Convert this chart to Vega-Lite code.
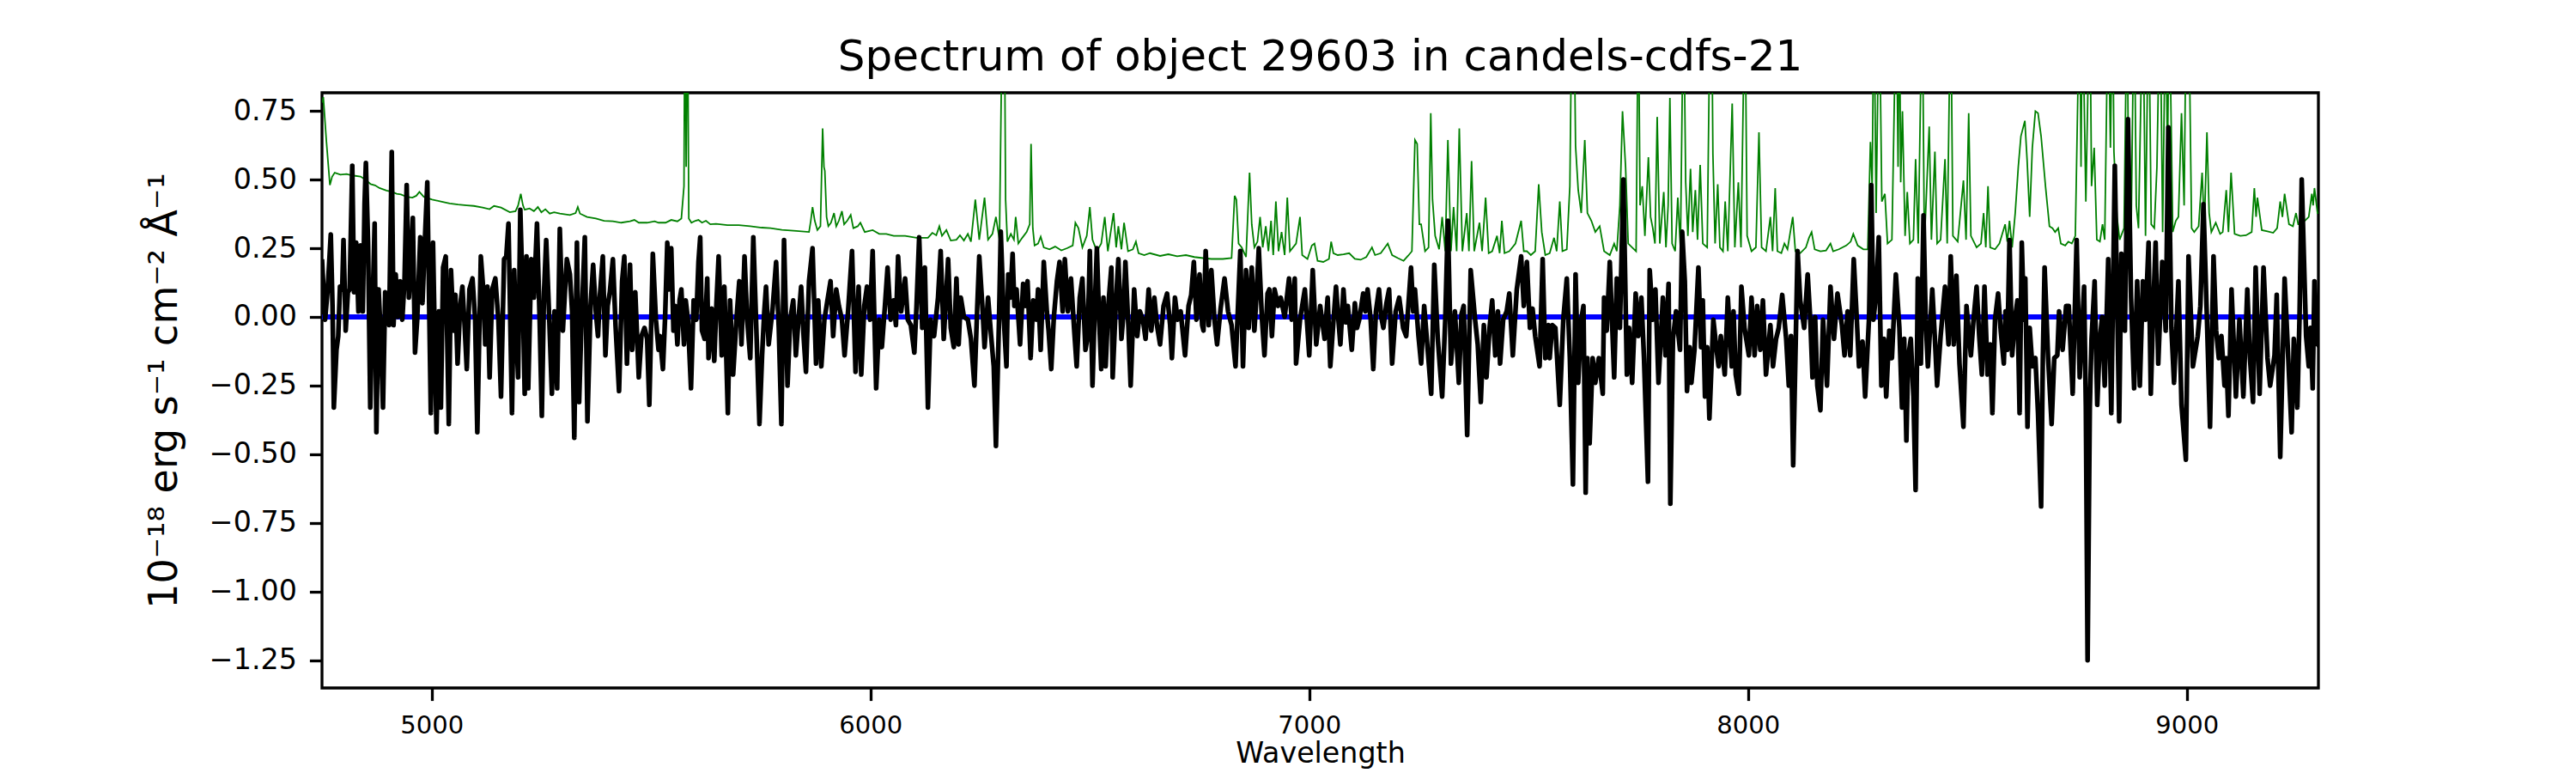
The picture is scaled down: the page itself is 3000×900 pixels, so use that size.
{
  "$schema": "https://vega.github.io/schema/vega-lite/v6.json",
  "autosize": {"type": "none"},
  "padding": {"left": 375, "top": 108, "right": 300, "bottom": 99},
  "width": 2325,
  "height": 693,
  "background": "white",
  "config": {
    "font": "DejaVu Sans",
    "view": {"stroke": "black", "strokeWidth": 3.3}
  },
  "title": {
    "text": "Spectrum of object 29603 in candels-cdfs-21",
    "font": "DejaVu Sans",
    "fontSize": 50,
    "fontWeight": "normal",
    "color": "black",
    "anchor": "middle",
    "baseline": "alphabetic",
    "offset": 24,
    "dy": 48
  },
  "datasets": {
    "zero": [{"w": 4750, "f": 0}, {"w": 9300, "f": 0}],
    "sky": [
      {"w":4750,"f":0.78},{"w":4753,"f":0.8},{"w":4760,"f":0.64},{"w":4768,"f":0.48},{"w":4773,"f":0.51},{"w":4779,"f":0.525},{"w":4792,"f":0.518},{"w":4806,"f":0.52},{"w":4819,"f":0.515},{"w":4838,"f":0.511},{"w":4851,"f":0.497},{"w":4861,"f":0.483},{"w":4871,"f":0.479},{"w":4881,"f":0.469},{"w":4897,"f":0.46},{"w":4910,"f":0.455},{"w":4920,"f":0.448},{"w":4930,"f":0.446},{"w":4943,"f":0.437},{"w":4956,"f":0.434},{"w":4965,"f":0.441},{"w":4972,"f":0.455},{"w":4982,"f":0.437},{"w":5001,"f":0.427},{"w":5021,"f":0.42},{"w":5041,"f":0.413},{"w":5060,"f":0.409},{"w":5080,"f":0.406},{"w":5096,"f":0.404},{"w":5116,"f":0.398},{"w":5132,"f":0.392},{"w":5142,"f":0.404},{"w":5158,"f":0.398},{"w":5178,"f":0.381},{"w":5191,"f":0.385},{"w":5197,"f":0.406},{"w":5203,"f":0.448},{"w":5208,"f":0.406},{"w":5212,"f":0.39},{"w":5223,"f":0.395},{"w":5233,"f":0.385},{"w":5242,"f":0.4},{"w":5250,"f":0.381},{"w":5259,"f":0.392},{"w":5269,"f":0.376},{"w":5279,"f":0.381},{"w":5292,"f":0.376},{"w":5315,"f":0.371},{"w":5328,"f":0.378},{"w":5333,"f":0.4},{"w":5338,"f":0.376},{"w":5354,"f":0.364},{"w":5374,"f":0.358},{"w":5393,"f":0.35},{"w":5413,"f":0.348},{"w":5432,"f":0.343},{"w":5452,"f":0.348},{"w":5462,"f":0.353},{"w":5472,"f":0.343},{"w":5491,"f":0.343},{"w":5508,"f":0.348},
      {"w":5517,"f":0.343},{"w":5533,"f":0.343},{"w":5546,"f":0.353},{"w":5560,"f":0.348},{"w":5569,"f":0.358},{"w":5575,"f":0.476},{"w":5577,"f":1.2},{"w":5580,"f":0.546},{"w":5583,"f":1.2},{"w":5586,"f":0.358},{"w":5592,"f":0.343},{"w":5601,"f":0.35},{"w":5608,"f":0.353},{"w":5616,"f":0.343},{"w":5625,"f":0.35},{"w":5635,"f":0.337},{"w":5648,"f":0.339},{"w":5674,"f":0.334},{"w":5700,"f":0.334},{"w":5726,"f":0.33},{"w":5752,"f":0.325},{"w":5772,"f":0.323},{"w":5798,"f":0.317},{"w":5831,"f":0.313},{"w":5860,"f":0.309},{"w":5864,"f":0.35},{"w":5868,"f":0.4},{"w":5873,"f":0.35},{"w":5879,"f":0.316},{"w":5886,"f":0.33},{"w":5891,"f":0.686},{"w":5894,"f":0.546},{"w":5896,"f":0.532},{"w":5900,"f":0.364},{"w":5904,"f":0.33},{"w":5910,"f":0.343},{"w":5917,"f":0.378},{"w":5922,"f":0.33},{"w":5928,"f":0.35},{"w":5935,"f":0.385},{"w":5940,"f":0.337},{"w":5947,"f":0.35},{"w":5955,"f":0.371},{"w":5961,"f":0.323},{"w":5971,"f":0.33},{"w":5977,"f":0.343},{"w":5987,"f":0.309},{"w":6005,"f":0.316},{"w":6020,"f":0.302},{"w":6036,"f":0.302},{"w":6053,"f":0.295},{"w":6079,"f":0.295},{"w":6105,"f":0.288},{"w":6131,"f":0.288},{"w":6141,"f":0.306},{"w":6150,"f":0.297},{"w":6157,"f":0.33},{"w":6163,"f":0.295},{"w":6173,"f":0.316},{"w":6183,"f":0.278},{"w":6196,"f":0.281},{"w":6204,"f":0.297},{"w":6213,"f":0.278},{"w":6222,"f":0.302},{"w":6229,"f":0.274},{"w":6239,"f":0.427},{"w":6248,"f":0.281},{"w":6260,"f":0.434},{"w":6268,"f":0.281},{"w":6278,"f":0.302},{"w":6286,"f":0.364},
      {"w":6294,"f":0.281},{"w":6301,"f":1.2},{"w":6305,"f":1.2},{"w":6308,"f":0.427},{"w":6312,"f":0.274},{"w":6320,"f":0.302},{"w":6327,"f":0.281},{"w":6331,"f":0.364},{"w":6337,"f":0.267},{"w":6346,"f":0.288},{"w":6356,"f":0.309},{"w":6363,"f":0.337},{"w":6366,"f":0.63},{"w":6370,"f":0.323},{"w":6374,"f":0.26},{"w":6382,"f":0.267},{"w":6388,"f":0.292},{"w":6395,"f":0.253},{"w":6408,"f":0.246},{"w":6421,"f":0.256},{"w":6435,"f":0.242},{"w":6448,"f":0.25},{"w":6461,"f":0.26},{"w":6467,"f":0.343},{"w":6474,"f":0.323},{"w":6483,"f":0.253},{"w":6493,"f":0.295},{"w":6500,"f":0.4},{"w":6506,"f":0.281},{"w":6516,"f":0.239},{"w":6526,"f":0.267},{"w":6534,"f":0.364},{"w":6541,"f":0.239},{"w":6554,"f":0.378},{"w":6560,"f":0.253},{"w":6565,"f":0.33},{"w":6572,"f":0.246},{"w":6578,"f":0.343},{"w":6587,"f":0.239},{"w":6598,"f":0.246},{"w":6605,"f":0.274},{"w":6611,"f":0.232},{"w":6624,"f":0.225},{"w":6637,"f":0.232},{"w":6660,"f":0.222},{"w":6679,"f":0.228},{"w":6699,"f":0.221},{"w":6719,"f":0.225},{"w":6738,"f":0.218},{"w":6758,"f":0.214},{"w":6777,"f":0.211},{"w":6803,"f":0.211},{"w":6823,"f":0.214},{"w":6830,"f":0.441},{"w":6834,"f":0.427},{"w":6839,"f":0.267},{"w":6846,"f":0.253},{"w":6856,"f":0.218},{"w":6864,"f":0.525},{"w":6869,"f":0.337},{"w":6875,"f":0.253},{"w":6882,"f":0.274},{"w":6888,"f":0.364},{"w":6894,"f":0.253},{"w":6901,"f":0.33},{"w":6907,"f":0.239},{"w":6913,"f":0.35},{"w":6918,"f":0.225},{"w":6924,"f":0.42},{"w":6930,"f":0.239},{"w":6937,"f":0.309},{"w":6944,"f":0.225},{"w":6950,"f":0.434},{"w":6956,"f":0.239},{"w":6970,"f":0.267},{"w":6979,"f":0.364},{"w":6984,"f":0.225},{"w":6996,"f":0.211},{"w":7006,"f":0.26},{"w":7012,"f":0.267},{"w":7019,"f":0.204},{"w":7032,"f":0.2},{"w":7045,"f":0.211},{"w":7050,"f":0.274},
      {"w":7055,"f":0.232},{"w":7065,"f":0.225},{"w":7078,"f":0.228},{"w":7091,"f":0.232},{"w":7104,"f":0.211},{"w":7117,"f":0.208},{"w":7130,"f":0.218},{"w":7143,"f":0.253},{"w":7150,"f":0.225},{"w":7163,"f":0.232},{"w":7179,"f":0.267},{"w":7189,"f":0.225},{"w":7202,"f":0.214},{"w":7215,"f":0.204},{"w":7225,"f":0.222},{"w":7234,"f":0.239},{"w":7241,"f":0.644},{"w":7246,"f":0.63},{"w":7251,"f":0.337},{"w":7255,"f":0.337},{"w":7264,"f":0.239},{"w":7272,"f":0.253},{"w":7277,"f":0.742},{"w":7281,"f":0.427},{"w":7287,"f":0.295},{"w":7296,"f":0.246},{"w":7303,"f":0.364},{"w":7310,"f":0.239},{"w":7316,"f":0.644},{"w":7323,"f":0.239},{"w":7329,"f":0.4},{"w":7336,"f":0.239},{"w":7342,"f":0.686},{"w":7349,"f":0.239},{"w":7359,"f":0.378},{"w":7364,"f":0.239},{"w":7370,"f":0.567},{"w":7376,"f":0.239},{"w":7388,"f":0.343},{"w":7394,"f":0.239},{"w":7402,"f":0.434},{"w":7409,"f":0.232},{"w":7417,"f":0.239},{"w":7428,"f":0.295},{"w":7434,"f":0.232},{"w":7439,"f":0.35},{"w":7445,"f":0.232},{"w":7456,"f":0.239},{"w":7470,"f":0.267},{"w":7483,"f":0.35},{"w":7489,"f":0.239},{"w":7496,"f":0.239},{"w":7505,"f":0.225},{"w":7515,"f":0.239},{"w":7523,"f":0.483},{"w":7530,"f":0.309},{"w":7538,"f":0.225},{"w":7548,"f":0.232},{"w":7558,"f":0.288},{"w":7564,"f":0.239},{"w":7571,"f":0.42},{"w":7577,"f":0.239},{"w":7587,"f":0.246},{"w":7594,"f":0.476},{"w":7599,"f":1.2},{"w":7603,"f":1.2},{"w":7607,"f":0.623},{"w":7613,"f":0.462},{"w":7620,"f":0.378},{"w":7628,"f":0.644},{"w":7634,"f":0.378},{"w":7643,"f":0.35},{"w":7652,"f":0.309},{"w":7662,"f":0.33},{"w":7672,"f":0.239},{"w":7685,"f":0.225},{"w":7695,"f":0.267},{"w":7701,"f":0.239},{"w":7708,"f":0.406},{"w":7714,"f":0.749},{"w":7721,"f":0.546},{"w":7727,"f":0.267},{"w":7736,"f":0.253},{"w":7745,"f":0.239},{"w":7750,"f":1.2},{"w":7754,"f":0.406},{"w":7759,"f":0.476},{"w":7765,"f":0.295},{"w":7773,"f":0.581},{"w":7778,"f":0.364},{"w":7783,"f":0.323},{"w":7788,"f":0.267},{"w":7793,"f":0.728},
      {"w":7799,"f":0.267},{"w":7808,"f":0.455},{"w":7813,"f":0.253},{"w":7818,"f":0.406},{"w":7822,"f":0.797},{"w":7827,"f":0.267},{"w":7834,"f":0.239},{"w":7840,"f":0.434},{"w":7846,"f":0.253},{"w":7853,"f":1.2},{"w":7858,"f":0.49},{"w":7863,"f":0.295},{"w":7869,"f":0.539},{"w":7874,"f":0.309},{"w":7880,"f":0.462},{"w":7885,"f":0.281},{"w":7891,"f":0.553},{"w":7897,"f":0.267},{"w":7907,"f":0.253},{"w":7914,"f":1.2},{"w":7917,"f":1.2},{"w":7920,"f":0.595},{"w":7925,"f":0.267},{"w":7931,"f":0.483},{"w":7936,"f":0.253},{"w":7943,"f":0.239},{"w":7948,"f":0.42},{"w":7954,"f":0.239},{"w":7964,"f":0.777},{"w":7970,"f":0.253},{"w":7978,"f":0.49},{"w":7984,"f":0.253},{"w":7993,"f":1.2},{"w":7998,"f":0.295},{"w":8008,"f":0.239},{"w":8018,"f":0.253},{"w":8025,"f":0.672},{"w":8031,"f":0.253},{"w":8041,"f":0.239},{"w":8051,"f":0.364},{"w":8056,"f":0.239},{"w":8062,"f":0.469},{"w":8067,"f":0.239},{"w":8076,"f":0.232},{"w":8083,"f":0.267},{"w":8090,"f":0.246},{"w":8095,"f":0.295},{"w":8102,"f":0.364},{"w":8108,"f":0.239},{"w":8119,"f":0.232},{"w":8132,"f":0.253},{"w":8139,"f":0.288},{"w":8145,"f":0.309},{"w":8152,"f":0.246},{"w":8165,"f":0.239},{"w":8178,"f":0.242},{"w":8188,"f":0.267},{"w":8194,"f":0.239},{"w":8207,"f":0.246},{"w":8224,"f":0.26},{"w":8234,"f":0.274},{"w":8240,"f":0.302},{"w":8250,"f":0.26},{"w":8263,"f":0.246},{"w":8273,"f":0.246},{"w":8279,"f":0.637},{"w":8283,"f":0.476},{"w":8287,"f":1.2},{"w":8292,"f":0.378},{"w":8299,"f":1.2},{"w":8305,"f":0.42},{"w":8312,"f":0.448},{"w":8318,"f":0.267},{"w":8328,"f":0.281},{"w":8338,"f":1.2},{"w":8342,"f":0.546},{"w":8345,"f":1.2},{"w":8348,"f":0.49},{"w":8352,"f":0.749},{"w":8358,"f":0.295},{"w":8363,"f":0.455},{"w":8369,"f":0.267},{"w":8377,"f":0.281},{"w":8382,"f":0.574},{"w":8388,"f":0.267},{"w":8397,"f":1.2},{"w":8402,"f":0.267},{"w":8413,"f":0.693},{"w":8418,"f":0.281},{"w":8426,"f":0.602},{"w":8431,"f":0.267},{"w":8439,"f":0.281},{"w":8449,"f":0.574},{"w":8454,"f":0.267},{"w":8462,"f":1.2},{"w":8467,"f":0.295},{"w":8478,"f":0.274},{"w":8491,"f":0.497},{"w":8497,"f":0.281},{"w":8503,"f":0.742},{"w":8508,"f":0.295},{"w":8521,"f":0.253},{"w":8531,"f":0.267},{"w":8537,"f":0.378},{"w":8542,"f":0.253},{"w":8547,"f":0.476},{"w":8552,"f":0.253},{"w":8563,"f":0.246},{"w":8573,"f":0.267},
      {"w":8586,"f":0.337},{"w":8591,"f":0.274},{"w":8596,"f":0.35},{"w":8602,"f":0.253},{"w":8609,"f":0.378},{"w":8616,"f":0.546},{"w":8622,"f":0.658},{"w":8631,"f":0.714},{"w":8636,"f":0.574},{"w":8642,"f":0.364},{"w":8648,"f":0.616},{"w":8655,"f":0.749},{"w":8661,"f":0.742},{"w":8668,"f":0.658},{"w":8678,"f":0.476},{"w":8687,"f":0.33},{"w":8694,"f":0.323},{"w":8700,"f":0.309},{"w":8707,"f":0.323},{"w":8713,"f":0.267},{"w":8723,"f":0.26},{"w":8730,"f":0.274},{"w":8738,"f":0.267},{"w":8746,"f":0.295},{"w":8756,"f":1.2},{"w":8759,"f":0.546},{"w":8762,"f":1.2},{"w":8770,"f":0.42},{"w":8779,"f":1.2},{"w":8783,"f":0.476},{"w":8789,"f":0.616},{"w":8795,"f":0.281},{"w":8802,"f":0.274},{"w":8808,"f":0.337},{"w":8813,"f":0.281},{"w":8821,"f":1.2},{"w":8826,"f":0.616},{"w":8831,"f":1.2},{"w":8834,"f":0.602},{"w":8841,"f":0.364},{"w":8847,"f":0.281},{"w":8857,"f":0.323},{"w":8864,"f":1.2},{"w":8868,"f":0.323},{"w":8873,"f":0.281},{"w":8880,"f":1.2},{"w":8885,"f":0.406},{"w":8890,"f":0.323},{"w":8900,"f":1.2},{"w":8906,"f":0.295},{"w":8913,"f":1.2},{"w":8919,"f":0.337},{"w":8926,"f":0.323},{"w":8932,"f":0.546},{"w":8939,"f":1.2},{"w":8945,"f":0.309},{"w":8952,"f":1.2},{"w":8956,"f":0.546},{"w":8960,"f":1.2},{"w":8968,"f":0.309},{"w":8975,"f":0.35},{"w":8981,"f":0.364},{"w":8988,"f":0.742},{"w":8994,"f":0.406},{"w":8999,"f":1.2},{"w":9004,"f":1.2},{"w":9011,"f":0.323},{"w":9017,"f":0.309},{"w":9027,"f":0.33},{"w":9035,"f":0.525},{"w":9040,"f":0.323},{"w":9046,"f":0.672},{"w":9051,"f":0.378},{"w":9056,"f":0.309},{"w":9066,"f":0.343},{"w":9076,"f":0.302},{"w":9082,"f":0.309},{"w":9090,"f":0.462},{"w":9095,"f":0.309},{"w":9101,"f":0.525},{"w":9109,"f":0.302},{"w":9122,"f":0.295},{"w":9135,"f":0.297},{"w":9148,"f":0.309},{"w":9154,"f":0.469},{"w":9158,"f":0.364},{"w":9161,"f":0.434},{"w":9171,"f":0.316},{"w":9184,"f":0.311},{"w":9197,"f":0.306},{"w":9206,"f":0.323},{"w":9213,"f":0.42},{"w":9218,"f":0.364},{"w":9223,"f":0.448},{"w":9233,"f":0.337},{"w":9242,"f":0.33},{"w":9249,"f":0.378},{"w":9254,"f":0.337},{"w":9259,"f":0.337},{"w":9269,"f":0.35},{"w":9278,"f":0.364},{"w":9285,"f":0.448},{"w":9288,"f":0.406},{"w":9291,"f":0.469},{"w":9298,"f":0.378},{"w":9304,"f":0.381}
    ],
    "flux": [
      {"w":4750,"f":0.21},{"w":4757,"f":-0.01},{"w":4763,"f":0.1},{"w":4770,"f":0.3},{"w":4774,"f":0.04},{"w":4777,"f":-0.33},{"w":4783,"f":-0.12},{"w":4787,"f":-0.07},{"w":4791,"f":0.11},{"w":4796,"f":0.1},{"w":4799,"f":0.28},{"w":4804,"f":-0.05},{"w":4809,"f":0.09},{"w":4813,"f":0.1},{"w":4819,"f":0.55},{"w":4823,"f":0.09},{"w":4828,"f":0.27},{"w":4833,"f":0.02},{"w":4838,"f":0.26},{"w":4843,"f":0.02},{"w":4847,"f":0.41},{"w":4850,"f":0.56},{"w":4855,"f":0.27},{"w":4860,"f":-0.33},{"w":4864,"f":-0.04},{"w":4870,"f":0.34},{"w":4874,"f":-0.42},{"w":4879,"f":0.1},{"w":4884,"f":-0.07},{"w":4889,"f":-0.33},{"w":4894,"f":0.09},{"w":4898,"f":0.07},{"w":4903,"f":-0.03},{"w":4909,"f":0.6},{"w":4913,"f":-0.03},{"w":4918,"f":0.155},{"w":4923,"f":0.0},{"w":4928,"f":0.13},{"w":4933,"f":-0.01},{"w":4938,"f":0.13},{"w":4943,"f":0.48},{"w":4948,"f":0.07},{"w":4952,"f":0.17},{"w":4957,"f":0.36},{"w":4962,"f":-0.13},{"w":4967,"f":-0.01},{"w":4974,"f":0.29},{"w":4979,"f":0.05},{"w":4985,"f":0.3},{"w":4990,"f":0.49},{"w":4998,"f":-0.35},{"w":5003,"f":0.27},{"w":5011,"f":-0.42},{"w":5016,"f":0.02},{"w":5021,"f":-0.33},{"w":5026,"f":0.18},{"w":5032,"f":0.22},{"w":5039,"f":-0.39},{"w":5044,"f":0.17},{"w":5050,"f":-0.05},{"w":5054,"f":0.08},{"w":5059,"f":-0.17},{"w":5065,"f":0.04},{"w":5070,"f":0.11},{"w":5075,"f":-0.03},{"w":5080,"f":-0.19},{"w":5086,"f":0.1},{"w":5093,"f":0.14},{"w":5099,"f":-0.01},{"w":5104,"f":-0.42},{"w":5112,"f":0.22},{"w":5118,"f":0.09},{"w":5122,"f":-0.1},{"w":5127,"f":0.11},{"w":5132,"f":-0.22},{"w":5138,"f":0.1},{"w":5145,"f":0.14},{"w":5152,"f":-0.01},{"w":5158,"f":-0.29},{"w":5165,"f":0.21},{"w":5170,"f":0.22},{"w":5175,"f":0.34},{"w":5183,"f":-0.35},{"w":5188,"f":0.17},{"w":5192,"f":-0.04},{"w":5197,"f":-0.22},{"w":5202,"f":0.39},{"w":5208,"f":0.04},{"w":5212,"f":-0.28},{"w":5216,"f":0.22},{"w":5220,"f":-0.26},{"w":5227,"f":0.21},{"w":5233,"f":0.07},{"w":5240,"f":0.34},{"w":5246,"f":-0.01},{"w":5251,"f":-0.36},{"w":5256,"f":0.09},{"w":5261,"f":0.28},{"w":5268,"f":-0.01},{"w":5274,"f":-0.28},{"w":5280,"f":0.02},{"w":5286,"f":-0.26},{"w":5292,"f":0.32},{"w":5299,"f":-0.05},{"w":5303,"f":0.07},{"w":5308,"f":0.21},{"w":5315,"f":0.155},{"w":5320,"f":0.02},{"w":5325,"f":-0.44},{"w":5331,"f":0.27},{"w":5336,"f":-0.31},{"w":5341,"f":-0.04},{"w":5349,"f":0.29},{"w":5355,"f":-0.38},{"w":5362,"f":0.04},{"w":5368,"f":0.19},{"w":5374,"f":0.02},{"w":5379,"f":-0.07},{"w":5383,"f":0.07},{"w":5390,"f":0.22},{"w":5396,"f":-0.14},{"w":5401,"f":0.04},{"w":5406,"f":0.09},{"w":5413,"f":0.21},{"w":5419,"f":-0.03},{"w":5427,"f":-0.27},{"w":5434,"f":0.13},{"w":5439,"f":0.22},{"w":5445,"f":-0.17},{"w":5452,"f":0.19},{"w":5457,"f":-0.12},{"w":5464,"f":0.09},{"w":5472,"f":-0.22},{"w":5478,"f":-0.07},{"w":5485,"f":-0.04},{"w":5491,"f":-0.08},{"w":5496,"f":-0.32},{"w":5504,"f":0.23},{"w":5511,"f":-0.01},{"w":5517,"f":-0.12},
      {"w":5520,"f":-0.07},{"w":5527,"f":-0.19},{"w":5532,"f":0.0},{"w":5537,"f":0.27},{"w":5541,"f":0.1},{"w":5546,"f":0.25},{"w":5551,"f":-0.05},{"w":5555,"f":0.04},{"w":5560,"f":-0.1},{"w":5565,"f":0.06},{"w":5569,"f":0.1},{"w":5575,"f":-0.1},{"w":5579,"f":0.06},{"w":5584,"f":-0.01},{"w":5591,"f":-0.26},{"w":5597,"f":0.06},{"w":5603,"f":-0.01},{"w":5608,"f":0.2},{"w":5612,"f":0.29},{"w":5616,"f":-0.05},{"w":5622,"f":-0.08},{"w":5628,"f":0.14},{"w":5631,"f":-0.15},{"w":5638,"f":0.03},{"w":5644,"f":-0.16},{"w":5649,"f":0.05},{"w":5654,"f":0.22},{"w":5661,"f":-0.14},{"w":5667,"f":0.11},{"w":5675,"f":-0.35},{"w":5680,"f":0.06},{"w":5687,"f":-0.21},{"w":5695,"f":0.0},{"w":5701,"f":0.13},{"w":5706,"f":-0.1},{"w":5713,"f":0.22},{"w":5719,"f":-0.01},{"w":5726,"f":-0.15},{"w":5733,"f":0.29},{"w":5740,"f":-0.05},{"w":5747,"f":-0.39},{"w":5753,"f":-0.14},{"w":5758,"f":0.02},{"w":5762,"f":0.11},{"w":5768,"f":-0.1},{"w":5777,"f":0.03},{"w":5785,"f":0.2},{"w":5791,"f":-0.04},{"w":5797,"f":-0.39},{"w":5803,"f":0.28},{"w":5811,"f":-0.25},{"w":5817,"f":-0.01},{"w":5824,"f":0.06},{"w":5830,"f":-0.14},{"w":5836,"f":-0.01},{"w":5842,"f":0.11},{"w":5848,"f":-0.08},{"w":5853,"f":-0.2},{"w":5860,"f":0.13},{"w":5868,"f":0.25},{"w":5876,"f":-0.17},{"w":5881,"f":0.06},{"w":5888,"f":-0.18},{"w":5895,"f":-0.01},{"w":5902,"f":0.06},{"w":5909,"f":0.13},{"w":5915,"f":-0.07},{"w":5922,"f":0.1},{"w":5928,"f":0.04},{"w":5935,"f":-0.01},{"w":5941,"f":-0.14},{"w":5949,"f":0.02},{"w":5958,"f":0.24},{"w":5966,"f":-0.2},{"w":5973,"f":0.11},{"w":5979,"f":-0.21},{"w":5986,"f":0.04},{"w":5992,"f":0.11},{"w":5999,"f":-0.01},{"w":6005,"f":0.24},{"w":6013,"f":-0.26},{"w":6020,"f":-0.01},{"w":6026,"f":-0.11},{"w":6033,"f":0.04},{"w":6039,"f":0.18},{"w":6046,"f":-0.01},{"w":6053,"f":0.06},{"w":6058,"f":-0.03},{"w":6063,"f":0.22},{"w":6070,"f":0.02},{"w":6079,"f":0.14},{"w":6085,"f":-0.01},{"w":6092,"f":-0.03},{"w":6100,"f":-0.13},{"w":6105,"f":0.04},{"w":6111,"f":0.29},{"w":6118,"f":-0.04},{"w":6124,"f":0.18},{"w":6131,"f":-0.33},{"w":6137,"f":-0.01},{"w":6145,"f":-0.07},{"w":6154,"f":0.07},{"w":6160,"f":0.24},{"w":6167,"f":-0.08},{"w":6177,"f":0.21},{"w":6183,"f":-0.04},{"w":6190,"f":-0.11},{"w":6196,"f":0.14},{"w":6201,"f":-0.1},{"w":6206,"f":0.07},{"w":6213,"f":0.0},{"w":6222,"f":-0.01},{"w":6229,"f":-0.08},{"w":6237,"f":-0.25},{"w":6243,"f":0.02},{"w":6248,"f":0.22},{"w":6255,"f":0.04},{"w":6260,"f":-0.11},{"w":6268,"f":0.07},{"w":6275,"f":-0.07},{"w":6281,"f":-0.18},{"w":6286,"f":-0.47},
      {"w":6293,"f":-0.01},{"w":6297,"f":0.31},{"w":6304,"f":-0.01},{"w":6310,"f":-0.18},{"w":6314,"f":0.155},{"w":6319,"f":0.07},{"w":6324,"f":0.23},{"w":6328,"f":0.04},{"w":6333,"f":0.1},{"w":6341,"f":-0.1},{"w":6348,"f":0.12},{"w":6353,"f":0.04},{"w":6358,"f":0.13},{"w":6365,"f":-0.15},{"w":6371,"f":0.06},{"w":6378,"f":-0.01},{"w":6382,"f":0.1},{"w":6388,"f":-0.12},{"w":6395,"f":0.2},{"w":6402,"f":0.02},{"w":6406,"f":-0.05},{"w":6412,"f":-0.19},{"w":6418,"f":0.0},{"w":6425,"f":0.13},{"w":6431,"f":0.2},{"w":6438,"f":0.02},{"w":6443,"f":0.21},{"w":6450,"f":0.02},{"w":6457,"f":0.14},{"w":6464,"f":-0.04},{"w":6470,"f":-0.18},{"w":6477,"f":0.07},{"w":6483,"f":0.14},{"w":6490,"f":-0.12},{"w":6495,"f":-0.07},{"w":6500,"f":0.24},{"w":6506,"f":-0.25},{"w":6511,"f":0.02},{"w":6516,"f":0.25},{"w":6521,"f":0.0},{"w":6526,"f":-0.19},{"w":6531,"f":0.07},{"w":6536,"f":-0.18},{"w":6542,"f":0.04},{"w":6549,"f":0.18},{"w":6552,"f":-0.22},{"w":6559,"f":0.04},{"w":6565,"f":0.21},{"w":6572,"f":-0.08},{"w":6576,"f":0.0},{"w":6581,"f":0.2},{"w":6588,"f":-0.04},{"w":6593,"f":-0.25},{"w":6601,"f":0.1},{"w":6608,"f":-0.07},{"w":6614,"f":0.02},{"w":6621,"f":-0.01},{"w":6627,"f":-0.08},{"w":6634,"f":0.1},{"w":6640,"f":-0.05},{"w":6647,"f":0.07},{"w":6653,"f":-0.03},{"w":6660,"f":-0.1},{"w":6668,"f":0.04},{"w":6676,"f":0.085},{"w":6683,"f":-0.03},{"w":6687,"f":-0.15},{"w":6694,"f":0.07},{"w":6700,"f":-0.01},{"w":6707,"f":0.02},{"w":6712,"f":-0.06},{"w":6717,"f":-0.14},{"w":6725,"f":0.04},{"w":6731,"f":0.08},{"w":6737,"f":0.2},{"w":6743,"f":-0.01},{"w":6750,"f":0.155},{"w":6756,"f":-0.03},{"w":6759,"f":-0.05},{"w":6764,"f":0.24},{"w":6771,"f":-0.03},{"w":6777,"f":0.17},{"w":6784,"f":-0.01},{"w":6790,"f":-0.1},{"w":6798,"f":0.03},{"w":6807,"f":0.14},{"w":6815,"f":0.02},{"w":6823,"f":-0.03},{"w":6832,"f":-0.18},{"w":6838,"f":0.05},{"w":6843,"f":0.24},{"w":6849,"f":-0.18},{"w":6856,"f":0.17},{"w":6862,"f":-0.04},{"w":6869,"f":0.18},{"w":6875,"f":-0.05},{"w":6880,"f":0.08},{"w":6885,"f":0.25},{"w":6892,"f":0.0},{"w":6898,"f":-0.14},{"w":6905,"f":0.085},{"w":6909,"f":0.1},{"w":6915,"f":-0.07},{"w":6921,"f":0.1},{"w":6929,"f":0.04},{"w":6935,"f":0.07},{"w":6944,"f":0.0},{"w":6954,"f":0.14},{"w":6960,"f":-0.01},{"w":6967,"f":0.14},{"w":6970,"f":-0.17},{"w":6979,"f":-0.01},{"w":6990,"f":0.1},{"w":7000,"f":-0.14},{"w":7008,"f":0.17},{"w":7016,"f":-0.1},{"w":7025,"f":0.04},{"w":7035,"f":-0.08},{"w":7042,"f":0.07},{"w":7048,"f":-0.18},
      {"w":7055,"f":-0.02},{"w":7061,"f":0.11},{"w":7066,"f":0.0},{"w":7071,"f":-0.1},{"w":7078,"f":0.1},{"w":7083,"f":-0.02},{"w":7088,"f":0.04},{"w":7097,"f":-0.12},{"w":7104,"f":0.05},{"w":7109,"f":-0.04},{"w":7114,"f":-0.01},{"w":7123,"f":0.085},{"w":7128,"f":0.02},{"w":7133,"f":0.1},{"w":7140,"f":-0.01},{"w":7146,"f":-0.19},{"w":7152,"f":0.02},{"w":7159,"f":0.1},{"w":7164,"f":0.0},{"w":7169,"f":-0.04},{"w":7176,"f":0.05},{"w":7182,"f":0.1},{"w":7189,"f":-0.17},{"w":7197,"f":0.02},{"w":7205,"f":0.07},{"w":7214,"f":-0.04},{"w":7221,"f":-0.07},{"w":7232,"f":0.18},{"w":7237,"f":0.02},{"w":7241,"f":0.1},{"w":7249,"f":-0.07},{"w":7255,"f":-0.17},{"w":7262,"f":0.04},{"w":7270,"f":-0.12},{"w":7278,"f":-0.28},{"w":7285,"f":0.19},{"w":7293,"f":-0.08},{"w":7303,"f":-0.29},{"w":7310,"f":-0.01},{"w":7316,"f":0.35},{"w":7323,"f":-0.17},{"w":7332,"f":0.02},{"w":7341,"f":-0.24},{"w":7347,"f":0.01},{"w":7352,"f":0.04},{"w":7360,"f":-0.43},{"w":7368,"f":0.17},{"w":7378,"f":-0.01},{"w":7384,"f":-0.1},{"w":7391,"f":-0.31},{"w":7398,"f":-0.03},{"w":7404,"f":-0.22},{"w":7411,"f":-0.04},{"w":7417,"f":0.06},{"w":7424,"f":-0.14},{"w":7430,"f":0.02},{"w":7435,"f":-0.17},{"w":7442,"f":-0.01},{"w":7450,"f":0.02},{"w":7456,"f":0.085},{"w":7464,"f":-0.14},{"w":7473,"f":0.1},{"w":7483,"f":0.22},{"w":7489,"f":0.04},{"w":7496,"f":0.2},{"w":7503,"f":-0.04},{"w":7509,"f":0.03},{"w":7515,"f":-0.07},{"w":7525,"f":-0.18},{"w":7532,"f":0.21},{"w":7538,"f":-0.15},{"w":7545,"f":-0.03},{"w":7548,"f":-0.15},{"w":7554,"f":-0.03},{"w":7561,"f":-0.04},{"w":7571,"f":-0.32},{"w":7579,"f":-0.01},{"w":7587,"f":0.14},{"w":7594,"f":-0.15},{"w":7601,"f":-0.61},{"w":7607,"f":0.155},{"w":7613,"f":-0.24},{"w":7620,"f":-0.01},{"w":7625,"f":0.04},{"w":7630,"f":-0.64},{"w":7634,"f":-0.15},{"w":7639,"f":-0.46},{"w":7646,"f":-0.15},{"w":7652,"f":-0.24},{"w":7660,"f":-0.15},{"w":7669,"f":-0.28},{"w":7672,"f":0.07},{"w":7678,"f":-0.05},{"w":7685,"f":0.2},{"w":7695,"f":-0.22},{"w":7701,"f":0.14},{"w":7708,"f":-0.04},{"w":7716,"f":0.5},{"w":7724,"f":-0.21},{"w":7729,"f":-0.04},{"w":7736,"f":-0.24},{"w":7744,"f":0.085},{"w":7750,"f":-0.07},{"w":7757,"f":0.07},{"w":7763,"f":-0.15},{"w":7772,"f":-0.6},{"w":7776,"f":0.17},{"w":7783,"f":-0.01},{"w":7789,"f":0.1},{"w":7796,"f":-0.24},{"w":7806,"f":0.07},
      {"w":7812,"f":-0.14},{"w":7819,"f":0.12},{"w":7823,"f":-0.68},{"w":7829,"f":-0.08},{"w":7836,"f":0.02},{"w":7845,"f":-0.12},{"w":7850,"f":0.31},{"w":7856,"f":0.13},{"w":7861,"f":-0.27},{"w":7867,"f":-0.11},{"w":7871,"f":-0.24},{"w":7878,"f":-0.12},{"w":7887,"f":0.18},{"w":7893,"f":-0.11},{"w":7897,"f":0.06},{"w":7902,"f":-0.29},{"w":7907,"f":-0.11},{"w":7912,"f":-0.37},{"w":7921,"f":-0.01},{"w":7927,"f":-0.1},{"w":7933,"f":-0.18},{"w":7938,"f":-0.07},{"w":7947,"f":-0.21},{"w":7954,"f":0.07},{"w":7963,"f":-0.18},{"w":7967,"f":0.02},{"w":7972,"f":-0.21},{"w":7979,"f":-0.28},{"w":7985,"f":0.11},{"w":7992,"f":-0.04},{"w":8002,"f":-0.14},{"w":8008,"f":0.07},{"w":8015,"f":-0.14},{"w":8021,"f":0.04},{"w":8028,"f":-0.12},{"w":8034,"f":0.06},{"w":8041,"f":-0.21},{"w":8051,"f":-0.03},{"w":8057,"f":-0.18},{"w":8064,"f":-0.08},{"w":8070,"f":-0.04},{"w":8078,"f":0.08},{"w":8087,"f":-0.08},{"w":8093,"f":-0.25},{"w":8098,"f":-0.07},{"w":8103,"f":-0.54},{"w":8108,"f":-0.15},{"w":8113,"f":0.24},{"w":8119,"f":0.06},{"w":8128,"f":-0.04},{"w":8136,"f":0.155},{"w":8142,"f":-0.01},{"w":8147,"f":-0.22},{"w":8153,"f":0.0},{"w":8158,"f":-0.25},{"w":8165,"f":-0.34},{"w":8171,"f":-0.01},{"w":8180,"f":-0.25},{"w":8188,"f":0.11},{"w":8196,"f":-0.08},{"w":8204,"f":0.085},{"w":8214,"f":-0.03},{"w":8220,"f":-0.14},{"w":8227,"f":0.02},{"w":8233,"f":-0.14},{"w":8241,"f":0.21},{"w":8248,"f":-0.01},{"w":8253,"f":-0.18},{"w":8261,"f":-0.09},{"w":8267,"f":-0.29},{"w":8276,"f":0.0},{"w":8281,"f":0.48},{"w":8286,"f":-0.01},{"w":8292,"f":0.085},{"w":8298,"f":0.29},{"w":8304,"f":-0.25},{"w":8310,"f":-0.08},{"w":8315,"f":-0.29},{"w":8322,"f":-0.05},{"w":8328,"f":-0.15},{"w":8337,"f":0.155},{"w":8345,"f":-0.04},{"w":8351,"f":-0.33},{"w":8356,"f":-0.08},{"w":8361,"f":-0.45},{"w":8365,"f":-0.15},{"w":8371,"f":-0.08},{"w":8377,"f":-0.29},{"w":8382,"f":-0.63},{"w":8387,"f":0.14},{"w":8394,"f":-0.17},{"w":8400,"f":0.37},{"w":8405,"f":-0.01},{"w":8410,"f":-0.18},{"w":8420,"f":0.1},{"w":8426,"f":-0.08},{"w":8431,"f":-0.25},{"w":8439,"f":-0.07},{"w":8449,"f":0.11},{"w":8457,"f":-0.1},{"w":8462,"f":0.22},{"w":8469,"f":-0.1},{"w":8475,"f":0.15},{"w":8482,"f":-0.17},{"w":8491,"f":-0.4},{"w":8498,"f":0.04},{"w":8508,"f":-0.14},{"w":8514,"f":-0.01},{"w":8521,"f":0.11},{"w":8527,"f":-0.07},{"w":8533,"f":-0.21},{"w":8539,"f":0.11},{"w":8546,"f":-0.21},{"w":8552,"f":-0.1},{"w":8557,"f":-0.35},{"w":8563,"f":-0.01},{"w":8570,"f":0.085},{"w":8576,"f":-0.05},
      {"w":8583,"f":-0.17},{"w":8587,"f":0.02},{"w":8591,"f":-0.12},{"w":8596,"f":0.28},{"w":8602,"f":-0.14},{"w":8609,"f":0.0},{"w":8614,"f":0.06},{"w":8619,"f":-0.35},{"w":8624,"f":0.27},{"w":8629,"f":-0.01},{"w":8632,"f":0.14},{"w":8637,"f":-0.4},{"w":8642,"f":-0.04},{"w":8648,"f":-0.18},{"w":8655,"f":-0.15},{"w":8661,"f":-0.35},{"w":8668,"f":-0.69},{"w":8672,"f":-0.15},{"w":8676,"f":0.18},{"w":8684,"f":-0.15},{"w":8692,"f":-0.39},{"w":8698,"f":-0.15},{"w":8705,"f":-0.14},{"w":8709,"f":0.02},{"w":8717,"f":-0.12},{"w":8725,"f":0.04},{"w":8731,"f":0.04},{"w":8740,"f":-0.28},{"w":8749,"f":0.28},{"w":8756,"f":-0.22},{"w":8766,"f":0.11},{"w":8770,"f":-0.33},{"w":8774,"f":-1.25},{"w":8779,"f":-0.33},{"w":8783,"f":-0.08},{"w":8790,"f":0.13},{"w":8796,"f":-0.32},{"w":8802,"f":-0.08},{"w":8807,"f":0.0},{"w":8813,"f":-0.25},{"w":8821,"f":0.21},{"w":8828,"f":-0.35},{"w":8836,"f":0.55},{"w":8846,"f":-0.38},{"w":8851,"f":0.23},{"w":8859,"f":-0.05},{"w":8866,"f":0.72},{"w":8873,"f":0.07},{"w":8880,"f":-0.26},{"w":8887,"f":0.13},{"w":8893,"f":-0.25},{"w":8900,"f":0.13},{"w":8906,"f":-0.01},{"w":8913,"f":0.27},{"w":8918,"f":-0.28},{"w":8924,"f":0.05},{"w":8929,"f":0.27},{"w":8935,"f":-0.17},{"w":8944,"f":0.2},{"w":8952,"f":-0.05},{"w":8958,"f":0.69},{"w":8965,"f":-0.04},{"w":8971,"f":-0.24},{"w":8981,"f":0.13},{"w":8988,"f":-0.32},{"w":8998,"f":-0.52},{"w":9004,"f":0.22},{"w":9014,"f":-0.18},{"w":9025,"f":-0.07},{"w":9031,"f":0.04},{"w":9038,"f":0.41},{"w":9046,"f":-0.01},{"w":9053,"f":-0.4},{"w":9061,"f":0.22},{"w":9067,"f":-0.05},{"w":9073,"f":-0.15},{"w":9079,"f":-0.07},{"w":9086,"f":-0.25},{"w":9090,"f":-0.15},{"w":9095,"f":-0.36},{"w":9102,"f":0.1},{"w":9112,"f":-0.29},{"w":9120,"f":-0.01},{"w":9129,"f":-0.29},{"w":9138,"f":0.1},{"w":9144,"f":-0.15},{"w":9151,"f":-0.31},{"w":9157,"f":0.18},{"w":9166,"f":-0.28},{"w":9175,"f":0.18},{"w":9184,"f":-0.15},{"w":9190,"f":-0.25},{"w":9200,"f":-0.14},{"w":9205,"f":0.08},{"w":9213,"f":-0.51},{"w":9223,"f":0.14},{"w":9229,"f":-0.07},{"w":9239,"f":-0.42},{"w":9244,"f":-0.08},{"w":9252,"f":-0.33},{"w":9257,"f":0.0},{"w":9262,"f":0.5},{"w":9272,"f":-0.07},{"w":9278,"f":-0.18},{"w":9282,"f":-0.04},{"w":9287,"f":-0.26},{"w":9291,"f":0.13},{"w":9298,"f":-0.1},{"w":9304,"f":-0.11}
    ]
  },
  "encoding": {
    "x": {
      "field": "w",
      "type": "quantitative",
      "scale": {"domain": [4750, 9300], "nice": false, "zero": false},
      "axis": {
        "title": "Wavelength",
        "values": [5000, 6000, 7000, 8000, 9000],
        "format": "d",
        "grid": false,
        "domain": false,
        "tickSize": 14.6,
        "tickWidth": 3.3,
        "tickColor": "black",
        "labelFont": "DejaVu Sans",
        "labelFontSize": 29,
        "labelColor": "black",
        "labelPadding": 14.4,
        "labelFlush": false,
        "labelOverlap": false,
        "titleFont": "DejaVu Sans",
        "titleFontSize": 33.3,
        "titleFontWeight": "normal",
        "titleColor": "black",
        "titlePadding": 2
      }
    },
    "y": {
      "field": "f",
      "type": "quantitative",
      "scale": {"domain": [-1.351, 0.816], "nice": false, "zero": false},
      "axis": {
        "title": "10⁻¹⁸ erg s⁻¹ cm⁻² Å⁻¹",
        "values": [-1.25, -1, -0.75, -0.5, -0.25, 0, 0.25, 0.5, 0.75],
        "format": ".2f",
        "grid": false,
        "domain": false,
        "tickSize": 14.6,
        "tickWidth": 3.3,
        "tickColor": "black",
        "labelFont": "DejaVu Sans",
        "labelFontSize": 33.3,
        "labelColor": "black",
        "labelPadding": 15,
        "labelFlush": false,
        "labelOverlap": false,
        "titleFont": "DejaVu Sans",
        "titleFontSize": 46,
        "titleFontWeight": "normal",
        "titleColor": "black",
        "titleAngle": -90,
        "titleAlign": "center",
        "titleBaseline": "alphabetic",
        "titleX": -170,
        "titleY": 346.5
      }
    }
  },
  "layer": [
    {
      "data": {"name": "sky"},
      "mark": {"type": "line", "color": "#008000", "strokeWidth": 1.8, "clip": true}
    },
    {
      "data": {"name": "zero"},
      "mark": {"type": "line", "color": "#0000ff", "strokeWidth": 6, "clip": true}
    },
    {
      "data": {"name": "flux"},
      "mark": {"type": "line", "color": "#000000", "strokeWidth": 5.5, "strokeJoin": "round", "clip": true}
    }
  ]
}
